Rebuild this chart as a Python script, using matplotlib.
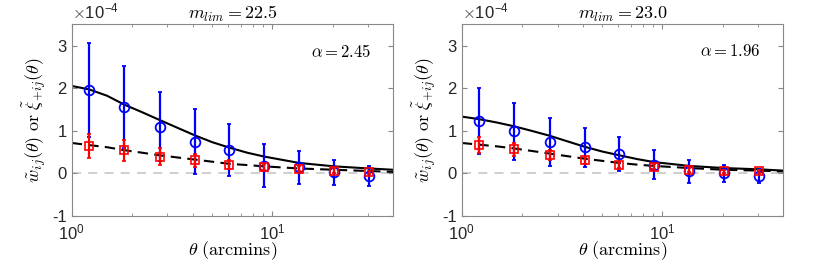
import matplotlib
matplotlib.use('Agg')
import matplotlib.pyplot as plt
from matplotlib.ticker import LogLocator, NullFormatter, FixedLocator

plt.rcParams['font.family'] = ['Liberation Sans', 'DejaVu Sans']
plt.rcParams['mathtext.fontset'] = 'cm'

# all y values in units of 1e-4
theta = [1.22, 1.83, 2.74, 4.1, 6.1, 9.1, 13.6, 20.3, 30.4]
theta_model = [1.0, 1.22, 1.5, 1.83, 2.25, 2.74, 3.35, 4.1, 5.0, 6.1,
               7.5, 9.1, 13.6, 20.3, 30.4, 40.0]

titles = ['$m_{lim} = 22.5$', '$m_{lim} = 23.0$']
alphas = [r'$\alpha = 2.45$', r'$\alpha = 1.96$']

# w_ij (blue circles)
w_val = [[1.95, 1.55, 1.09, 0.74, 0.54, 0.18, 0.14, 0.02, -0.07],
         [1.23, 0.99, 0.73, 0.61, 0.45, 0.20, 0.05, 0.00, -0.06]]
w_err = [[1.10, 0.96, 0.81, 0.76, 0.61, 0.51, 0.39, 0.30, 0.23],
         [0.77, 0.67, 0.57, 0.46, 0.40, 0.34, 0.27, 0.20, 0.16]]
# xi_+ij (red squares)
xi_val = [[0.64, 0.54, 0.39, 0.30, 0.20, 0.14, 0.10, 0.06, 0.02],
          [0.66, 0.56, 0.43, 0.30, 0.20, 0.15, 0.08, 0.04, 0.04]]
xi_err = [[0.28, 0.25, 0.19, 0.16, 0.10, 0.07, 0.06, 0.05, 0.04],
          [0.18, 0.16, 0.12, 0.09, 0.07, 0.06, 0.05, 0.04, 0.03]]
# model curves
w_model = [[2.05, 1.97, 1.82, 1.61, 1.43, 1.25, 1.07, 0.89, 0.73, 0.60,
            0.48, 0.39, 0.24, 0.16, 0.11, 0.08],
           [1.33, 1.27, 1.19, 1.10, 0.99, 0.88, 0.75, 0.62, 0.51, 0.42,
            0.33, 0.26, 0.17, 0.12, 0.09, 0.06]]
xi_model = [[0.71, 0.66, 0.61, 0.54, 0.48, 0.42, 0.37, 0.32, 0.27, 0.22,
             0.19, 0.16, 0.11, 0.08, 0.05, 0.03],
            [0.71, 0.67, 0.63, 0.58, 0.52, 0.46, 0.40, 0.34, 0.29, 0.24,
             0.20, 0.17, 0.12, 0.08, 0.06, 0.04]]

fig = plt.figure(figsize=(8.3, 2.62), dpi=100)

lefts = [0.0864, 0.5563]
edge = '#888888'

for k in range(2):
    ax = fig.add_axes([lefts[k], 0.1767, 0.3875, 0.7306])
    ax.set_xscale('log')
    ax.axhline(0, color='#cccccc', lw=1.3, ls=(0, (5, 4)), zorder=1)
    ax.plot(theta_model, w_model[k], color='k', lw=1.5, zorder=2)
    ax.plot(theta_model, xi_model[k], color='k', lw=1.5, ls=(0, (5, 3)), zorder=2)
    ax.errorbar(theta, w_val[k], yerr=w_err[k], fmt='o', ms=7, mfc='none',
                mec='b', mew=1.3, ecolor='b', elinewidth=1.6, capsize=1.5,
                capthick=1.5, zorder=3)
    ax.errorbar(theta, xi_val[k], yerr=xi_err[k], fmt='s', ms=6, mfc='none',
                mec='r', mew=1.2, ecolor='r', elinewidth=1.6, capsize=1.5,
                capthick=1.5, zorder=4)

    ax.set_xlim(1, 40)
    ax.set_ylim(-1, 3.5)
    ax.yaxis.set_major_locator(FixedLocator([-1, 0, 1, 2, 3]))
    ax.set_yticklabels(['-1', '0', '1', '2', '3'])
    ax.xaxis.set_major_locator(LogLocator(base=10))
    ax.xaxis.set_minor_locator(LogLocator(base=10, subs=range(2, 10)))
    ax.xaxis.set_minor_formatter(NullFormatter())
    ax.tick_params(which='both', direction='in', top=True, right=True,
                   color=edge, labelsize=12, labelcolor='#262626')
    ax.tick_params(which='major', length=3.5)
    ax.tick_params(which='minor', length=2)
    ax.tick_params(axis='x', pad=5)
    for s in ax.spines.values():
        s.set_color(edge)
        s.set_linewidth(0.8)

    ax.set_xlabel(r'$\theta\ \mathrm{(arcmins)}$', fontsize=13, labelpad=-2)
    ax.set_ylabel(r'$\tilde{w}_{ij}(\theta)\ \mathrm{or}\ \tilde{\xi}_{+ij}(\theta)$',
                  fontsize=13, labelpad=3)
    ax.set_title(titles[k], fontsize=13, pad=3)
    ax.text(0.93, 0.86, alphas[k], transform=ax.transAxes, ha='right',
            va='center', fontsize=12)
    ax.text(0.0, 1.015, r'$\times$10$^{\mathregular{-4}}$', transform=ax.transAxes,
            ha='left', va='bottom', fontsize=12, color='#262626')

fig.savefig('out.png', dpi=100)
